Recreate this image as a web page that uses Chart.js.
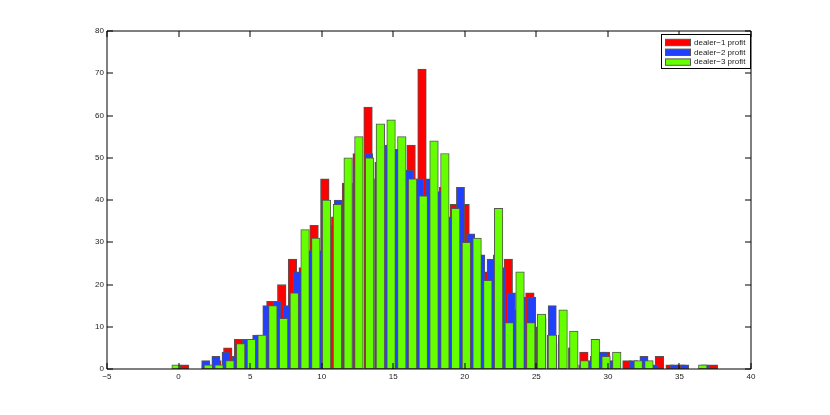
<!DOCTYPE html>
<html><head><meta charset="utf-8">
<script src="https://cdn.jsdelivr.net/npm/chart.js@4.4.1/dist/chart.umd.min.js"></script>
<style>html,body{margin:0;padding:0;background:#fff;}#wrap{width:830px;height:415px;}</style>
</head><body><div id="wrap"><canvas id="c" width="830" height="415"></canvas></div>
<script>
const seriesLabels = ['dealer\u22121 profit', 'dealer\u22122 profit', 'dealer\u22123 profit'];
const xTickValues = [-5, 0, 5, 10, 15, 20, 25, 30, 35, 40];
const yTickValues = [0, 10, 20, 30, 40, 50, 60, 70, 80];

const dealer1Bins = [0.42,1.17,1.93,2.68,3.44,4.19,4.94,5.70,6.45,7.21,7.96,8.71,9.47,10.22,10.98,11.73,12.48,13.24,13.99,14.75,15.50,16.25,17.01,17.76,18.52,19.27,20.02,20.78,21.53,22.29,23.04,23.79,24.55,25.30,26.06,26.81,27.56,28.32,29.07,29.83,30.58,31.33,32.09,32.84,33.60,34.35,35.10,35.86,36.61,37.37];
const dealer1Counts = [1,0,1,2,5,7,6,8,16,20,26,24,34,45,36,44,51,62,45,46,46,53,71,40,43,39,39,30,23,27,26,14,18,10,8,6,5,4,3,4,2,2,1,1,3,1,1,0,0,1];

const dealer2Bins = [1.90,2.61,3.32,4.04,4.75,5.46,6.17,6.88,7.60,8.31,9.02,9.73,10.44,11.16,11.87,12.58,13.29,14.00,14.72,15.43,16.14,16.85,17.56,18.28,18.99,19.70,20.41,21.12,21.84,22.55,23.26,23.97,24.68,25.40,26.11,26.82,27.53,28.24,28.96,29.67,30.38,31.09,31.80,32.52,33.23,33.94,34.65,35.36,36.08,36.79];
const dealer2Counts = [2,3,4,3,7,8,15,16,15,23,28,28,34,40,44,48,51,49,53,52,47,45,45,42,36,43,32,27,26,24,18,17,17,12,15,8,5,1,2,4,2,0,2,3,1,0,1,1,0,1];

const dealer3Bins = [-0.17,0.58,1.33,2.08,2.83,3.59,4.34,5.09,5.84,6.59,7.34,8.09,8.84,9.59,10.34,11.10,11.85,12.60,13.35,14.10,14.85,15.60,16.35,17.10,17.85,18.61,19.36,20.11,20.86,21.61,22.36,23.11,23.86,24.61,25.36,26.12,26.87,27.62,28.37,29.12,29.87,30.62,31.37,32.12,32.87,33.63,34.38,35.13,35.88,36.63];
const dealer3Counts = [1,0,0,1,1,2,6,7,8,15,12,18,33,31,40,39,50,55,50,58,59,55,45,41,54,51,38,30,31,21,38,11,23,11,13,8,14,9,2,7,3,4,0,2,2,0,0,0,0,1];

const colors = ['#ff0000', '#2040ff', '#66ff00'];
const edge = '#555555';

function pts(bins, counts) { return bins.map((b, i) => ({x: b, y: counts[i]})); }

const FONT = 'Liberation Sans, Arial, Helvetica, sans-serif';

const framePlugin = {
  id: 'frame',
  afterDatasetsDraw(chart) {
    const ctx = chart.ctx, a = chart.chartArea;
    const xs = chart.scales.x, ys = chart.scales.y;
    ctx.save();
    ctx.strokeStyle = '#000';
    ctx.lineWidth = 1;
    ctx.beginPath();
    ctx.rect(a.left, a.top, a.right - a.left, a.bottom - a.top);
    ctx.stroke();
    const L = 6;
    ctx.beginPath();
    xTickValues.forEach(v => {
      const p = Math.round(xs.getPixelForValue(v));
      ctx.moveTo(p, a.bottom); ctx.lineTo(p, a.bottom - L);
      ctx.moveTo(p, a.top); ctx.lineTo(p, a.top + L);
    });
    yTickValues.forEach(v => {
      const p = Math.round(ys.getPixelForValue(v));
      ctx.moveTo(a.left, p); ctx.lineTo(a.left + L, p);
      ctx.moveTo(a.right, p); ctx.lineTo(a.right - L, p);
    });
    ctx.stroke();
    ctx.restore();
  },
  afterDraw(chart) {
    const ctx = chart.ctx, a = chart.chartArea;
    const w = 90, h = 35;
    const x0 = a.right - w, y0 = a.top + 3;
    ctx.save();
    ctx.fillStyle = '#fff';
    ctx.fillRect(x0, y0, w, h);
    ctx.strokeStyle = '#000';
    ctx.lineWidth = 1;
    ctx.strokeRect(x0 + 0.5, y0 + 0.5, w - 1, h - 1);
    ctx.font = '8px ' + FONT;
    ctx.textBaseline = 'middle';
    ctx.textAlign = 'left';
    chart.data.datasets.forEach((ds, i) => {
      const cy = y0 + 8.5 + i * 9.8;
      ctx.fillStyle = ds.backgroundColor;
      ctx.fillRect(x0 + 4.5, cy - 3.2, 25, 6.4);
      ctx.strokeStyle = edge;
      ctx.strokeRect(x0 + 4.5, cy - 3.2, 25, 6.4);
      ctx.fillStyle = '#222';
      ctx.fillText(ds.label, x0 + 33, cy);
    });
    ctx.restore();
  }
};

new Chart(document.getElementById('c'), {
  type: 'bar',
  data: {
    datasets: [
      {label: seriesLabels[0], data: pts(dealer1Bins, dealer1Counts), backgroundColor: colors[0], order: 3, barThickness: 8.6},
      {label: seriesLabels[1], data: pts(dealer2Bins, dealer2Counts), backgroundColor: colors[1], order: 2, barThickness: 8.2},
      {label: seriesLabels[2], data: pts(dealer3Bins, dealer3Counts), backgroundColor: colors[2], order: 1, barThickness: 8.6}
    ]
  },
  options: {
    responsive: false,
    animation: false,
    devicePixelRatio: 1,
    datasets: { bar: { grouped: false, borderColor: edge, borderWidth: 1, borderSkipped: false } },
    layout: { padding: { top: 31, right: 79, left: 0, bottom: 0 } },
    plugins: { legend: { display: false }, tooltip: { enabled: false } },
    scales: {
      x: {
        type: 'linear', min: -5, max: 40, offset: false,
        grid: { display: false, offset: false, drawTicks: false },
        border: { display: false },
        afterBuildTicks: s => { s.ticks = xTickValues.map(v => ({value: v})); },
        afterFit: s => { s.height = 46; },
        ticks: { padding: 3, color: '#222', font: { family: FONT, size: 8 }, maxRotation: 0, autoSkip: false,
          callback: v => (v < 0 ? '\u2212' + Math.abs(v) : String(v)) }
      },
      y: {
        type: 'linear', min: 0, max: 80,
        grid: { display: false, drawTicks: false },
        border: { display: false },
        afterBuildTicks: s => { s.ticks = yTickValues.map(v => ({value: v})); },
        afterFit: s => { s.width = 107; },
        ticks: { padding: 3, color: '#222', font: { family: FONT, size: 8 }, autoSkip: false }
      }
    }
  },
  plugins: [framePlugin]
});
</script></body></html>
